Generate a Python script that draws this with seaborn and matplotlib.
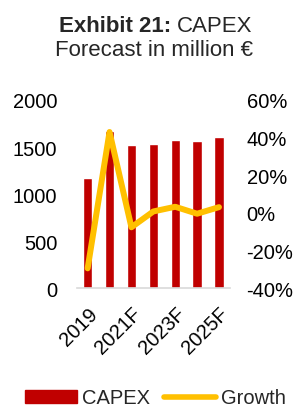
import matplotlib
matplotlib.use("Agg")
import matplotlib.pyplot as plt
import seaborn as sns
import numpy as np
from matplotlib.ticker import PercentFormatter
from matplotlib.patches import Patch
from matplotlib.lines import Line2D

# data
years = ["2019", "2020", "2021F", "2022F", "2023F", "2024F", "2025F"]
capex = [1174, 1667, 1521, 1529, 1571, 1564, 1603]
growth = [-0.294, 0.43, -0.076, 0.008, 0.033, -0.004, 0.031]

bar_col = "#C00000"
line_col = "#FFC000"

sns.set_style("white")
plt.rcParams["font.family"] = ["Liberation Sans", "DejaVu Sans"]
plt.rcParams["axes.unicode_minus"] = False

fig = plt.figure(figsize=(2.99, 4.10), dpi=100)
ax = fig.add_axes([0.2565, 0.2944, 0.5125, 0.4593])

sns.barplot(x=years, y=capex, color=bar_col, saturation=1, width=0.42, ax=ax)
ax.set_ylim(0, 2000)
ax.set_yticks([0, 500, 1000, 1500, 2000])
ax.set_xlim(-0.5, len(years) - 0.5)
ax.set_xlabel("")
ax.set_ylabel("")

ax2 = ax.twinx()
sns.lineplot(x=np.arange(len(years)), y=growth, color=line_col, lw=4.3,
             solid_joinstyle="round", solid_capstyle="round", ax=ax2)
ax2.set_ylim(-0.4, 0.6)
ax2.set_yticks([-0.4, -0.2, 0, 0.2, 0.4, 0.6])
ax2.yaxis.set_major_formatter(PercentFormatter(1.0, decimals=0))
ax2.set_xlim(-0.5, len(years) - 0.5)

ax.set_xticks(range(0, len(years), 2))
ax.set_xticklabels(years[::2], rotation=45, ha="right", rotation_mode="anchor")

for a in (ax, ax2):
    for s in a.spines.values():
        s.set_visible(False)
    a.tick_params(length=0, labelsize=14.5, colors="black")
ax.spines["bottom"].set_visible(True)
ax.spines["bottom"].set_color("#D9D9D9")
ax.spines["bottom"].set_linewidth(1.2)
ax.tick_params(axis="y", pad=14)
ax.tick_params(axis="x", pad=11)
ax2.tick_params(axis="y", pad=12)

# title with bold prefix
fig.text(171 / 299, 0.9227, "Exhibit 21:", fontsize=16, fontweight="bold", ha="right", va="baseline")
fig.text(177 / 299, 0.9227, "CAPEX", fontsize=16, ha="left", va="baseline")
fig.text(0.515, 0.864, "Forecast in million €", fontsize=16, ha="center", va="baseline")

handles = [Patch(facecolor=bar_col, edgecolor=bar_col),
           Line2D([0], [0], color=line_col, lw=4, solid_capstyle="round")]
fig.legend(handles, ["CAPEX", "Growth"], loc="center", bbox_to_anchor=(0.52, 0.027),
           ncol=2, frameon=False, fontsize=14.5, handlelength=2.6, handleheight=0.6,
           handletextpad=0.25, columnspacing=0.7)

fig.savefig("out.png", dpi=100)
